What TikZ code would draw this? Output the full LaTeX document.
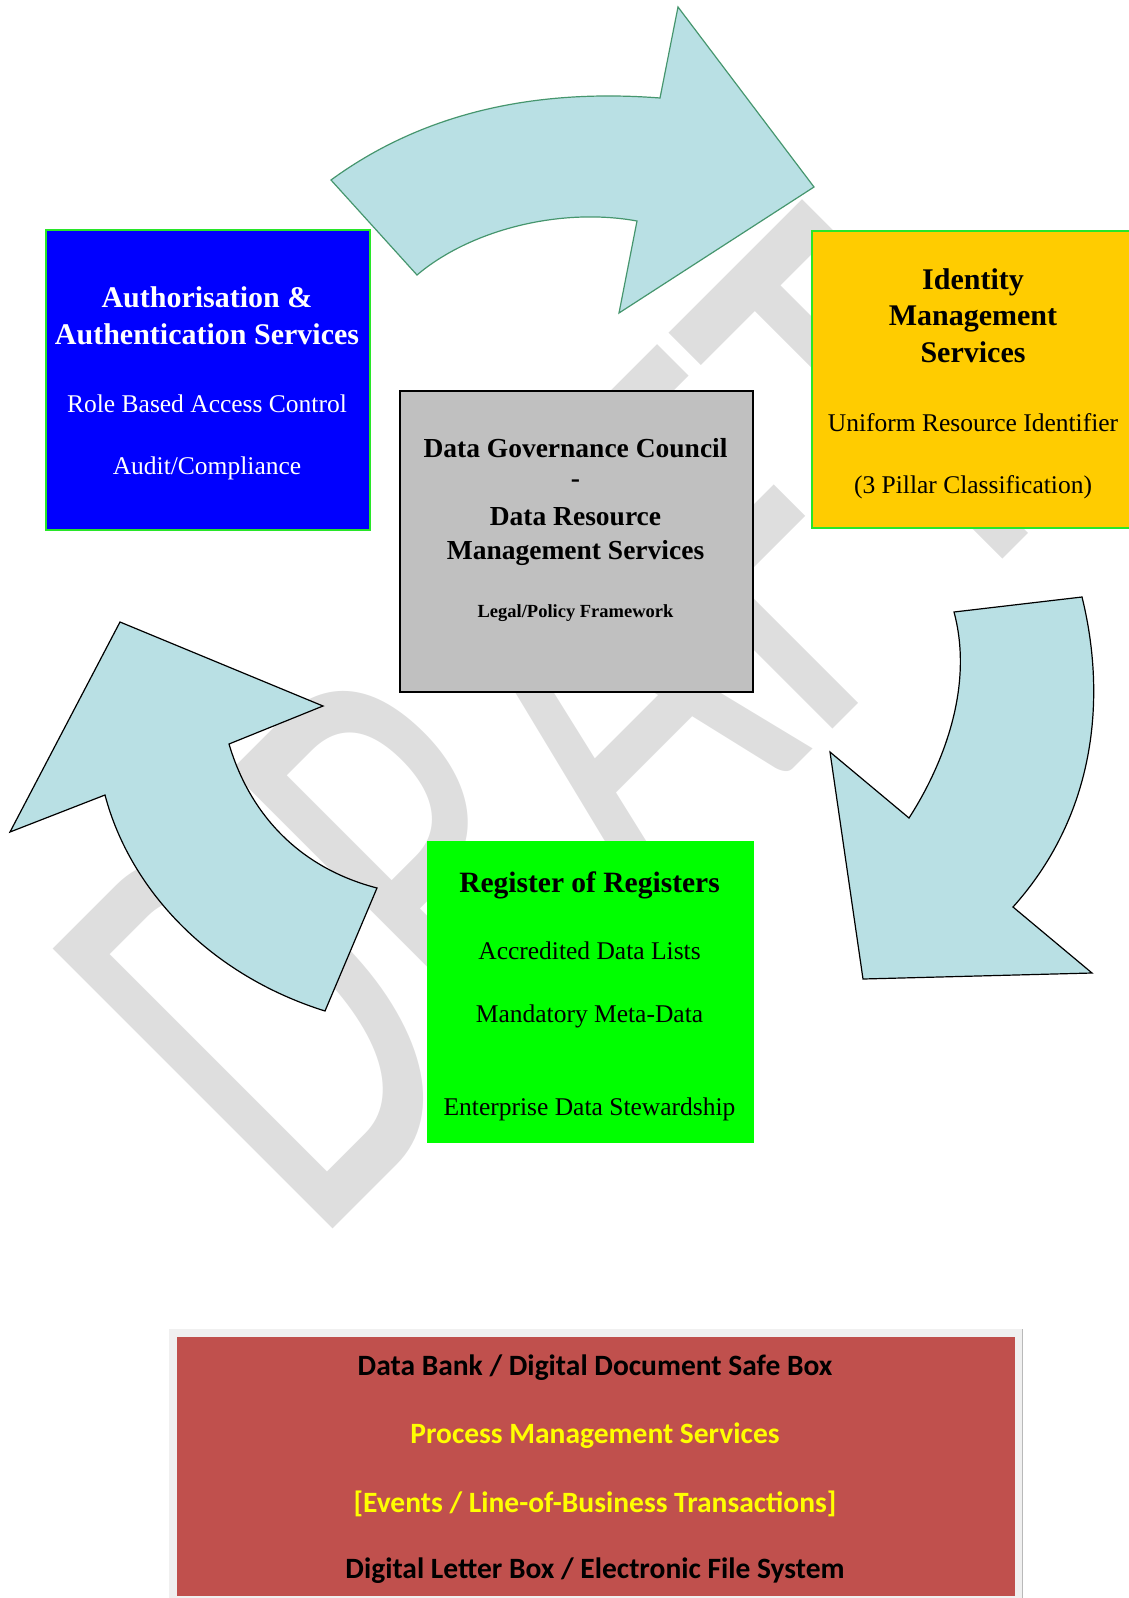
\documentclass[tikz,border=0pt]{standalone}
\usepackage{fontspec}
\setmainfont{Liberation Serif}
\newfontfamily\carlito{Carlito}
\usetikzlibrary{positioning}
\definecolor{authblue}{RGB}{0,0,255}
\definecolor{idyellow}{RGB}{255,204,0}
\definecolor{regreen}{RGB}{0,255,0}
\definecolor{edgegreen}{RGB}{40,230,40}
\definecolor{councilgrey}{RGB}{192,192,192}
\definecolor{bankred}{RGB}{192,80,77}
\definecolor{bankframe}{RGB}{240,240,240}
\definecolor{arrowfill}{RGB}{185,224,228}
\definecolor{arrowedge}{RGB}{70,150,110}
\definecolor{wmgrey}{RGB}{222,222,222}
\definecolor{textyellow}{RGB}{255,255,0}
\tikzset{
  panel/.style={draw=#1, line width=1.5pt, anchor=north west, inner sep=0pt},
  headline/.style={anchor=base, inner sep=0pt, font=\bfseries\fontsize{30}{36}\selectfont},
  councilline/.style={anchor=base, inner sep=0pt, font=\bfseries\fontsize{27.5}{33}\selectfont},
  bodyline/.style={anchor=base, inner sep=0pt, font=\fontsize{25.5}{30}\selectfont},
  bankline/.style={anchor=base, inner sep=0pt, font=\carlito\bfseries\fontsize{29.5}{35}\selectfont},
  flowarrow/.style={fill=arrowfill, draw=black, line width=1.2pt},
  watermark/.style={rotate=45, inner sep=0pt, text=wmgrey, font=\carlito\fontsize{617}{617}\selectfont}
}

\begin{document}
\begin{tikzpicture}[x=1pt,y=-1pt]
\useasboundingbox (0,0) rectangle (1128,1598);
% watermark behind everything
\node[watermark] (wm) at (560,722) {\scalebox{0.66}[1]{DRAFT}};

% curved arrows
\draw[flowarrow, draw=arrowedge] (331,180) .. controls (420,115) and (530,88) .. (660,98)
  -- (678,7) -- (814,187) -- (619,313) -- (637,221)
  .. controls (560,207) and (470,230) .. (417,275) -- cycle;
\draw[flowarrow] (954,612) -- (1082,597) .. controls (1105,690) and (1100,810) .. (1013,907)
  -- (1092,973) -- (863,979) -- (830,752) -- (909,818)
  .. controls (940,770) and (975,690) .. (954,612) -- cycle;
\draw[flowarrow] (120,622) -- (323,706) -- (229,744)
  .. controls (250,815) and (300,868) .. (377,888) -- (325,1011)
  .. controls (210,975) and (130,890) .. (105,795) -- (10,832) -- cycle;

% service boxes
\node[panel=edgegreen, fill=authblue, minimum width=324, minimum height=300] (auth) at (45,229) {};
\node[headline, text=white] (auth-1) at (207,307) {Authorisation \&};
\node[headline, text=white] (auth-2) at (207,344) {Authentication Services};
\node[bodyline, text=white] (auth-3) at (207,412) {Role Based Access Control};
\node[bodyline, text=white] (auth-4) at (207,474) {Audit/Compliance};

\node[panel=edgegreen, fill=idyellow, minimum width=340, minimum height=297] (ident) at (811,230) {};
\node[headline] (ident-1) at (973,289) {Identity};
\node[headline] (ident-2) at (973,325) {Management};
\node[headline] (ident-3) at (973,362) {Services};
\node[bodyline] (ident-4) at (973,431) {Uniform Resource Identifier};
\node[bodyline] (ident-5) at (973,493) {(3 Pillar Classification)};

\node[panel=black, fill=councilgrey, minimum width=353, minimum height=301] (council) at (399,390) {};
\node[councilline] (council-1) at (575.5,457.5) {Data Governance Council};
\node[councilline] (council-2) at (575.5,487) {-};
\node[councilline] (council-3) at (575.5,525) {Data Resource};
\node[councilline] (council-4) at (575.5,559) {Management Services};
\node[councilline, font=\bfseries\fontsize{18.5}{22}\selectfont] (council-5) at (575.5,617) {Legal/Policy Framework};

\node[panel=regreen, fill=regreen, minimum width=325, minimum height=300] (reg) at (427,841) {};
\node[headline, font=\bfseries\fontsize{29.5}{35}\selectfont] (reg-1) at (589.5,892) {Register of Registers};
\node[bodyline] (reg-2) at (589.5,959) {Accredited Data Lists};
\node[bodyline] (reg-3) at (589.5,1022) {Mandatory Meta-Data};
\node[bodyline] (reg-4) at (589.5,1115) {Enterprise Data Stewardship};

% data bank strip
\node[panel=bankframe, fill=bankframe, minimum width=852, minimum height=275] (frame) at (169,1329) {};
\draw[gray!55, line width=1.5pt] (frame.north east) -- (frame.south east);
\node[panel=bankred, fill=bankred, minimum width=836, minimum height=257] (bank) at (177,1337) {};
\node[bankline] (bank-1) at (595,1375) {Data Bank / Digital Document Safe Box};
\node[bankline, text=textyellow] (bank-2) at (595,1443) {Process Management Services};
\node[bankline, text=textyellow] (bank-3) at (595,1512) {[Events / Line-of-Business Transactions]};
\node[bankline] (bank-4) at (595,1578) {Digital Letter Box / Electronic File System};
\end{tikzpicture}
\end{document}
